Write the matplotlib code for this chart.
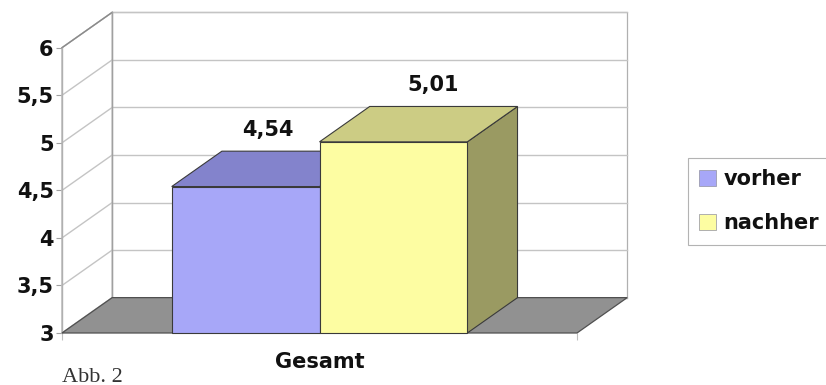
import matplotlib
matplotlib.use("Agg")
import matplotlib.pyplot as plt
from matplotlib.patches import Polygon, Patch

# ---- data ----
categories = ["Gesamt"]
series_names = ["vorher", "nachher"]
values = [4.54, 5.01]
value_labels = ["4,54", "5,01"]
yticks = [3, 3.5, 4, 4.5, 5, 5.5, 6]
ytick_labels = ["3", "3,5", "4", "4,5", "5", "5,5", "6"]

# ---- style ----
front_colors = ["#a7a7f8", "#fdfda2"]
top_colors = ["#8383cc", "#cccc84"]
side_colors = ["#6c6ca8", "#9a9a62"]
edge = "#3a3a3a"
grid_c = "#c4c4c4"
txt_c = "#111111"
ymin, ymax = 3, 6
depth_x = 0.0975   # depth offset (x data units)
depth_y = 0.372    # depth offset (value units)
bar_w = 0.287
label_shift = [0.45, 0.8]

fig = plt.figure(figsize=(8.26, 3.85), dpi=100)
ax = fig.add_axes([62/826, 52/385, 515/826, 285.3/385])
ax.set_xlim(0, 1)
ax.set_ylim(ymin, ymax)
for s in ax.spines.values():
    s.set_visible(False)

def poly(pts, fc, ec, lw=0.8, z=1):
    p = Polygon(pts, closed=True, facecolor=fc, edgecolor=ec, linewidth=lw,
                clip_on=False, zorder=z, joinstyle="miter")
    ax.add_patch(p)

# walls
poly([(depth_x, ymin + depth_y), (1 + depth_x, ymin + depth_y),
      (1 + depth_x, ymax + depth_y), (depth_x, ymax + depth_y)], "white", "#b0b0b0", 0.9, 1)
poly([(0, ymin), (depth_x, ymin + depth_y), (depth_x, ymax + depth_y), (0, ymax)],
     "white", "#b0b0b0", 0.9, 1)

# gridlines
for v in yticks:
    ax.plot([depth_x, 1 + depth_x], [v + depth_y, v + depth_y], color=grid_c, lw=1.0,
            clip_on=False, zorder=2)
    ax.plot([0, depth_x], [v, v + depth_y], color=grid_c, lw=1.0, clip_on=False, zorder=2)
ax.plot([0, depth_x], [ymax, ymax + depth_y], color="#8a8a8a", lw=1.0, clip_on=False, zorder=2)
ax.plot([depth_x, depth_x], [ymin + depth_y, ymax + depth_y], color="#a0a0a0", lw=1.0,
        clip_on=False, zorder=2)
ax.plot([0, 0], [ymin, ymax], color="#b0b0b0", lw=1.0, clip_on=False, zorder=2)

# floor
poly([(0, ymin), (1, ymin), (1 + depth_x, ymin + depth_y), (depth_x, ymin + depth_y)],
     "#919191", "#505050", 0.9, 3)

# bars
n = len(values)
group_center = 0.5
lefts = [group_center - n * bar_w / 2 + i * bar_w for i in range(n)]
for i, (x0, v) in enumerate(zip(lefts, values)):
    x1 = x0 + bar_w
    z = 4 + i
    poly([(x1, ymin), (x1 + depth_x, ymin + depth_y), (x1 + depth_x, v + depth_y), (x1, v)],
         side_colors[i], edge, 0.8, z)
    poly([(x0, v), (x1, v), (x1 + depth_x, v + depth_y), (x0 + depth_x, v + depth_y)],
         top_colors[i], edge, 0.8, z)
    poly([(x0, ymin), (x1, ymin), (x1, v), (x0, v)], front_colors[i], edge, 0.8, z)
    cx = (x0 + x1) / 2 + depth_x * label_shift[i]
    ax.annotate(value_labels[i], (cx, v + depth_y), xytext=(0, 8), textcoords="offset points",
                ha="center", va="bottom", fontsize=15, fontweight="bold",
                family="DejaVu Sans", color=txt_c, annotation_clip=False, zorder=10)

# axes ticks
ax.set_yticks(yticks)
ax.set_yticklabels(ytick_labels)
ax.tick_params(axis="y", length=4, width=0.8, color="#a0a0a0", pad=2, labelsize=15)
for t in ax.get_yticklabels():
    t.set_fontweight("bold")
    t.set_family("DejaVu Sans")
    t.set_color(txt_c)
ax.set_xticks([group_center])
ax.set_xticklabels(categories)
ax.set_xticks([0, 1], minor=True)
ax.tick_params(axis="x", which="major", length=0, pad=14, labelsize=15)
ax.tick_params(axis="x", which="minor", length=5, width=0.8, color="#c0c0c0")
for t in ax.get_xticklabels():
    t.set_fontweight("bold")
    t.set_family("DejaVu Sans")
    t.set_color(txt_c)

# legend
handles = [Patch(facecolor=c, edgecolor="#9090a0", linewidth=0.5) for c in front_colors]
leg = fig.legend(handles, series_names, loc="upper left",
                 bbox_to_anchor=(688/826, 1 - 158/385), frameon=True, fancybox=False,
                 edgecolor="#a0a0a0", handlelength=0.8, handleheight=0.8,
                 handletextpad=0.35, labelspacing=1.15, borderpad=0.55,
                 borderaxespad=0, prop={"family": "DejaVu Sans", "weight": "bold", "size": 15})
leg.get_frame().set_linewidth(0.8)
for t in leg.get_texts():
    t.set_color(txt_c)

fig.text(62/826, 1 - 377/385, "Abb. 2", family="Liberation Serif", fontsize=16,
         va="center", ha="left", color="#333333")

fig.savefig("out.png", dpi=100)
